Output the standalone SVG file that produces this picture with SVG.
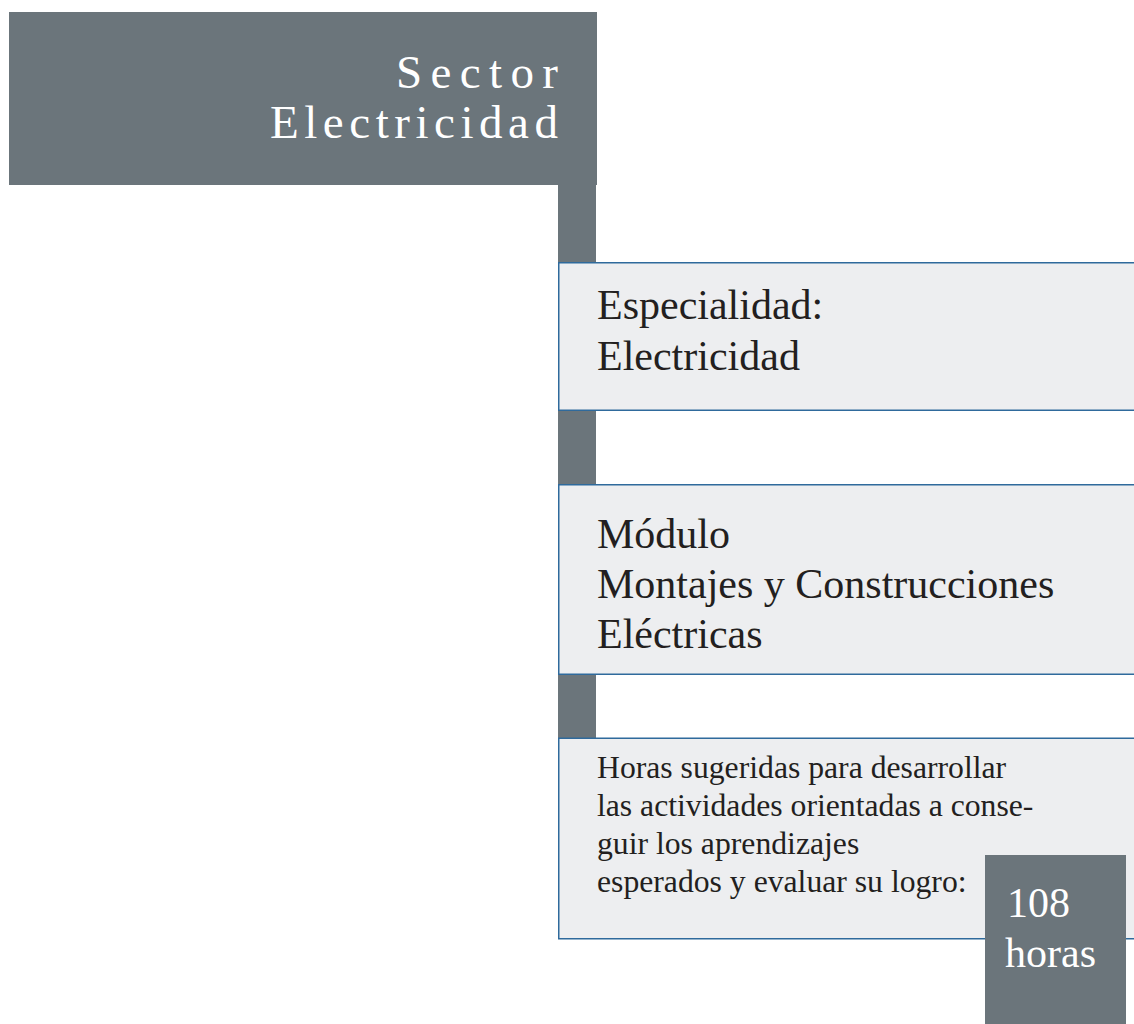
<svg xmlns="http://www.w3.org/2000/svg" width="1134" height="1024" viewBox="0 0 1134 1024">
  <style>
    .dark { fill: #6b757b; }
    .panel { fill: #edeef0; stroke: #2f6a9c; stroke-width: 1.5; }
    .serif { font-family: "Liberation Serif", "Times New Roman", serif; }
    .big { font-size: 42px; fill: #231f20; }
    .small { font-size: 31.7px; fill: #231f20; }
    .white { fill: #ffffff; }
  </style>
  <rect width="1134" height="1024" fill="#ffffff"/>
  <g id="connectors">
    <rect class="dark" x="558" y="184" width="38" height="555"/>
  </g>
  <g id="sector">
    <rect class="dark" x="9" y="12" width="588" height="173"/>
    <text class="serif white" x="396" y="88" font-size="47" textLength="162" lengthAdjust="spacing">Sector</text>
    <text class="serif white" x="270" y="138" font-size="47" textLength="288" lengthAdjust="spacing">Electricidad</text>
  </g>
  <g id="especialidad">
    <rect class="panel" x="558.75" y="262.75" width="600" height="147.5"/>
    <text class="serif big" x="597" y="319">Especialidad:</text>
    <text class="serif big" x="597" y="370">Electricidad</text>
  </g>
  <g id="modulo">
    <rect class="panel" x="558.75" y="484.75" width="600" height="189.5"/>
    <text class="serif big" x="597" y="548">Módulo</text>
    <text class="serif big" x="597" y="598">Montajes y Construcciones</text>
    <text class="serif big" x="597" y="648">Eléctricas</text>
  </g>
  <g id="horas-sugeridas">
    <rect class="panel" x="558.75" y="738.25" width="600" height="200.5"/>
    <text class="serif small" x="597" y="778">Horas sugeridas para desarrollar</text>
    <text class="serif small" x="597" y="816">las actividades orientadas a conse-</text>
    <text class="serif small" x="597" y="854">guir los aprendizajes</text>
    <text class="serif small" x="597" y="892">esperados y evaluar su logro:</text>
  </g>
  <g id="horas-total">
    <rect class="dark" x="985" y="855" width="141" height="169"/>
    <text class="serif white" x="1007" y="917" font-size="42">108</text>
    <text class="serif white" x="1005" y="967" font-size="42">horas</text>
  </g>
</svg>
